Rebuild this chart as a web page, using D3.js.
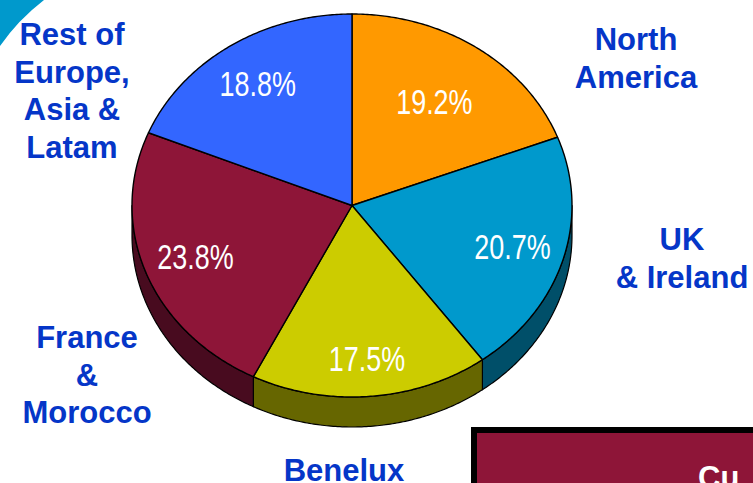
<!DOCTYPE html>
<html>
<head>
<meta charset="utf-8">
<script src="https://cdn.jsdelivr.net/npm/d3@7"></script>
<style>
  body { margin: 0; background: #fff; }
  svg { display: block; }
</style>
</head>
<body>
<div id="chart"></div>
<script>
// revenue split by region (%)
const regions = ["North America", "UK & Ireland", "Benelux", "France & Morocco", "Rest of Europe, Asia & Latam"];
const shares = [19.2, 20.7, 17.5, 23.8, 18.8];
const nameLines = [["North", "America"], ["UK", "& Ireland"], ["Benelux"], ["France", "&", "Morocco"], ["Rest of", "Europe,", "Asia &", "Latam"]];
const topColors = ["#ff9900", "#0099cc", "#cccc00", "#8e1538", "#3366ff"];
const sideColors = ["#995c00", "#004f69", "#666600", "#480b1f", "#1f3d99"];

const width = 753, height = 483;
const cx = 352, cy = 205.5, rx = 220, ry = 191.5, depth = 30;

// layout: where the first line of each region name sits, and how far out each % label goes
const nameAnchors = [[636, 50], [682, 250], [344, 481], [87, 348], [72, 45]];
const pctRadius = [0.66, 0.76, 0.8, 0.76, 0.77];

const svg = d3.select("#chart").append("svg")
    .attr("width", width)
    .attr("height", height);

// decoration top-left
svg.append("path")
    .attr("d", "M0,0 L44,0 Q18,20 0,46 Z")
    .attr("fill", "#0099cc");

const data = regions.map((r, i) => ({ region: r, value: shares[i], i }));
const pie = d3.pie().value(d => d.value).sort(null);
const arcs = pie(data);

// project an angle (0 = top, clockwise) onto the tilted ellipse
const pt = (a, k = 1, dy = 0) => [cx + rx * k * Math.sin(a), cy - ry * k * Math.cos(a) + dy];
const line = d3.line();

function rim(a0, a1, dy) {
    const n = Math.max(2, Math.ceil((a1 - a0) / 0.01));
    return d3.range(n + 1).map(j => pt(a0 + (a1 - a0) * j / n, 1, dy));
}

// side walls (front half only)
const front = arcs.map(d => ({
    d,
    a0: Math.max(d.startAngle, Math.PI / 2),
    a1: Math.min(d.endAngle, Math.PI * 1.5)
})).filter(s => s.a1 > s.a0);

svg.append("g").selectAll("path")
    .data(front)
    .join("path")
    .attr("d", s => line(rim(s.a0, s.a1, 0).concat(rim(s.a0, s.a1, depth).reverse())) + "Z")
    .attr("fill", s => sideColors[s.d.index])
    .attr("stroke", "#000")
    .attr("stroke-width", 1.2)
    .attr("stroke-linejoin", "round");

// top faces
svg.append("g").selectAll("path")
    .data(arcs)
    .join("path")
    .attr("d", d => line([[cx, cy]].concat(rim(d.startAngle, d.endAngle, 0))) + "Z")
    .attr("fill", d => topColors[d.index])
    .attr("stroke", "#000")
    .attr("stroke-width", 1.4)
    .attr("stroke-linejoin", "round");

// percentages (condensed look)
svg.append("g").selectAll("text")
    .data(arcs)
    .join("text")
    .attr("transform", d => {
        const p = pt((d.startAngle + d.endAngle) / 2, pctRadius[d.index]);
        return `translate(${p[0]},${p[1]}) scale(0.77,1)`;
    })
    .attr("dy", "0.36em")
    .attr("text-anchor", "middle")
    .attr("fill", "#fff")
    .style("font-family", "'Liberation Sans', Arial, sans-serif")
    .style("font-size", "35px")
    .text(d => d.data.value.toFixed(1) + "%");

// region names
const names = svg.append("g").selectAll("text")
    .data(data)
    .join("text")
    .attr("text-anchor", "middle")
    .attr("fill", "#0536c8")
    .style("font-family", "'Liberation Sans', Arial, sans-serif")
    .style("font-weight", "bold")
    .style("font-size", "31px");

names.selectAll("tspan")
    .data(d => nameLines[d.i].map(t => ({ t, i: d.i })))
    .join("tspan")
    .attr("x", d => nameAnchors[d.i][0])
    .attr("y", (d, j) => nameAnchors[d.i][1] + j * 37.7)
    .text(d => d.t);

// caption box, cut by the page edge
svg.append("rect")
    .attr("x", 474)
    .attr("y", 430)
    .attr("width", 300)
    .attr("height", 80)
    .attr("fill", "#8e1538")
    .attr("stroke", "#000")
    .attr("stroke-width", 6);

svg.append("text")
    .attr("x", 698)
    .attr("y", 488)
    .attr("fill", "#fff")
    .style("font-family", "'Liberation Sans', Arial, sans-serif")
    .style("font-weight", "bold")
    .style("font-size", "31px")
    .text("Cu");
</script>
</body>
</html>
